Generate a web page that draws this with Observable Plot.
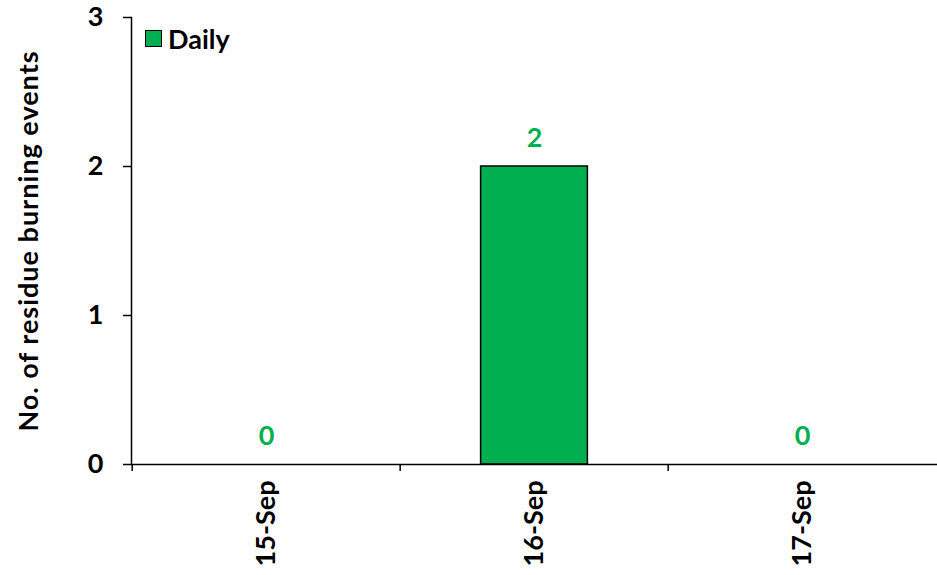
<!DOCTYPE html>
<html>
<head>
<meta charset="utf-8">
<script src="https://cdn.jsdelivr.net/npm/d3@7"></script>
<script src="https://cdn.jsdelivr.net/npm/@observablehq/plot@0.6"></script>
<style>
  html, body { margin: 0; padding: 0; background: #fff; }
  #wrap { position: relative; width: 937px; height: 575px; font-family: Lato, "Open Sans", sans-serif; }
  #legend { position: absolute; left: 145px; top: 22px; display: flex; align-items: center; font-weight: bold; font-size: 27px; color: #000; }
  #legend .sw { width: 15px; height: 15px; background: #00B050; border: 1.5px solid #000; margin-right: 6px; }
  g[aria-label="y-axis label"] text { letter-spacing: 1px; }
</style>
</head>
<body>
<div id="wrap">
  <div id="chart"></div>
  <div id="legend"><span class="sw"></span><span>Daily</span></div>
</div>
<script>
const categories = ["15-Sep", "16-Sep", "17-Sep"];
const dailyValues = [0, 2, 0];
const yTicks = [0, 1, 2, 3];
const yLabel = "No. of residue burning events";
const seriesName = "Daily";

const data = categories.map((c, i) => ({date: c, value: dailyValues[i]}));
const green = "#00B050";

const W = 937, H = 575, ML = 131, MR = 0, MT = 17, MB = 111;
const band = (W - ML - MR) / categories.length;
const FS = 27;

const chart = Plot.plot({
  width: W,
  height: H,
  marginLeft: ML,
  marginRight: MR,
  marginTop: MT,
  marginBottom: MB,
  style: {fontFamily: "Lato, 'Open Sans', sans-serif", fontWeight: "bold", fontSize: FS + "px", color: "#000", background: "#fff"},
  x: {domain: categories, padding: 0, axis: null},
  y: {domain: [0, 3], axis: null},
  marks: [
    Plot.barY(data, {x: "date", y: "value", fill: green, stroke: "#000", strokeWidth: 1.5, insetLeft: band * 0.3, insetRight: band * 0.3}),
    Plot.ruleY([0], {stroke: "#000", strokeWidth: 1.5}),
    Plot.frame({anchor: "left", stroke: "#000", strokeWidth: 1.5}),
    Plot.axisY({ticks: yTicks, tickSize: 8, tickPadding: 20, tickFormat: d3.format("d"), stroke: "#000", strokeWidth: 1.5, label: yLabel, labelAnchor: "center", labelArrow: "none", labelOffset: 113, fontSize: FS}),
    Plot.axisX({tickSize: 7, dx: -band / 2, text: null, label: null, stroke: "#000", strokeWidth: 1.5}),
    Plot.axisX({tickSize: 0, tickPadding: 16, tickRotate: -90, label: null, fontSize: FS}),
    Plot.text(data, {x: "date", y: "value", text: d => String(d.value), dy: -28, fill: green, fontSize: FS, fontWeight: "bold"})
  ]
});
document.getElementById("chart").appendChild(chart);
</script>
</body>
</html>
